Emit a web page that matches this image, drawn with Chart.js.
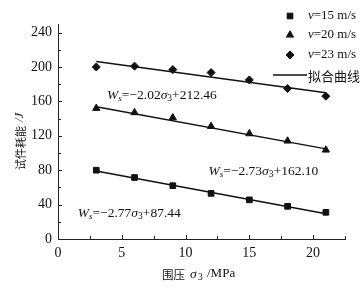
<!DOCTYPE html>
<html><head><meta charset="utf-8">
<script src="https://cdn.jsdelivr.net/npm/chart.js@4/dist/chart.umd.min.js"></script>
<style>html,body{margin:0;padding:0;background:#fff}#wrap{width:364px;height:290px}</style>
</head><body><div id="wrap"><canvas id="c" width="364" height="290"></canvas></div>
<script>
const sigma3 = [3, 6, 9, 12, 15, 18, 21];
const v15 = [80, 71.5, 62, 53, 45.5, 38, 31];
const v20 = [152, 147, 141, 131, 122.5, 114, 103.5];
const v23 = [200, 201, 197, 193.5, 185, 175, 166];
const fitX = [3, 21];
const fit15 = [79.1, 29.3];
const fit20 = [153.9, 104.8];
const fit23 = [206.4, 170.0];
const xTicks = [0, 5, 10, 15, 20];
const yTicks = [0, 40, 80, 120, 160, 200, 240];
const legendLabels = ['v=15 m/s', 'v=20 m/s', 'v=23 m/s', '拟合曲线'];
const equations = [
  {k: '2.02', b: '212.46', x: 3.85, y: 167},
  {k: '2.73', b: '162.10', x: 11.8, y: 78},
  {k: '2.77', b: '87.44', x: 1.55, y: 30}
];
const INK = '#111';
const SERIF = '"Liberation Serif","Times New Roman",serif';
const CJK = '"Noto Sans CJK SC",sans-serif';
const STYLES = [['rect', 4], ['triangle', 4.2], ['rectRot', 4]];

const pts = (xs, ys) => xs.map((x, i) => ({x, y: ys[i]}));
const fitDs = (ys) => ({type: 'line', data: pts(fitX, ys), borderColor: INK, borderWidth: 1.5, pointRadius: 0, fill: false, order: 2});
const scatDs = (ys, i) => ({type: 'scatter', data: pts(sigma3, ys), pointStyle: STYLES[i][0], pointRadius: STYLES[i][1], pointHoverRadius: STYLES[i][1],
  backgroundColor: INK, borderColor: INK, borderWidth: 1, order: 1});

const extras = {
  id: 'extras',
  afterDraw(chart) {
    const ctx = chart.ctx, xs = chart.scales.x, ys = chart.scales.y;
    const L = xs.left, B = ys.bottom;
    ctx.save();
    ctx.strokeStyle = '#222'; ctx.lineWidth = 1;
    // inward ticks
    for (let v = 2.5; v <= 22.5; v += 2.5) {
      const px = Math.round(xs.getPixelForValue(v)) + 0.5;
      const len = (v % 5 === 0) ? 4 : 3;
      ctx.beginPath(); ctx.moveTo(px, B); ctx.lineTo(px, B - len); ctx.stroke();
    }
    for (let v = 20; v <= 240; v += 20) {
      const py = Math.round(ys.getPixelForValue(v)) + 0.5;
      const len = (v % 40 === 0) ? 4 : 3;
      ctx.beginPath(); ctx.moveTo(L, py); ctx.lineTo(L + len, py); ctx.stroke();
    }
    // equations
    ctx.fillStyle = INK; ctx.textBaseline = 'middle';
    equations.forEach(e => {
      let x = xs.getPixelForValue(e.x), y = ys.getPixelForValue(e.y);
      const parts = [
        ['italic 13.5px ' + SERIF, 'W', 0],
        ['italic 9px ' + SERIF, 's', 3],
        ['13.5px ' + SERIF, '=\u2212' + e.k, 0],
        ['italic 13.5px ' + SERIF, '\u03c3', 0],
        ['9.5px ' + SERIF, '3', 3],
        ['13.5px ' + SERIF, '+' + e.b, 0]
      ];
      ctx.textAlign = 'left';
      parts.forEach(p => {
        ctx.font = p[0];
        ctx.fillText(p[1], x, y + p[2]);
        x += ctx.measureText(p[1]).width;
      });
    });
    // legend
    const lx = 290, tx = 308, rows = [16, 35, 55, 75];
    for (let i = 0; i < 3; i++) {
      ctx.fillStyle = INK; ctx.strokeStyle = INK; ctx.lineWidth = 1;
      Chart.helpers.drawPoint(ctx, {pointStyle: STYLES[i][0], radius: STYLES[i][1], borderWidth: 1, rotation: 0}, lx, rows[i]);
      const lab = legendLabels[i];
      ctx.textAlign = 'left';
      ctx.font = 'italic 13px ' + SERIF; ctx.fillText(lab[0], tx, rows[i]);
      let w = ctx.measureText(lab[0]).width;
      ctx.font = '13px ' + SERIF; ctx.fillText(lab.slice(1), tx + w, rows[i]);
    }
    ctx.strokeStyle = INK; ctx.lineWidth = 1.5;
    ctx.beginPath(); ctx.moveTo(273, rows[3]); ctx.lineTo(307, rows[3]); ctx.stroke();
    ctx.font = '13px ' + CJK; ctx.fillText(legendLabels[3], 308, rows[3] + 1);
    // x axis title
    const ty = 274;
    ctx.textAlign = 'left';
    ctx.font = '11.5px ' + CJK; ctx.fillText('围压', 162, ty + 1);
    ctx.font = 'italic 13.5px ' + SERIF; ctx.fillText('\u03c3', 190, ty);
    ctx.font = '9.5px ' + SERIF; ctx.fillText('3', 198, ty + 3);
    ctx.font = '13px ' + SERIF; ctx.fillText('/MPa', 207, ty);
    // y axis title
    ctx.save();
    ctx.translate(20, 170); ctx.rotate(-Math.PI / 2);
    ctx.font = '11px ' + CJK; ctx.fillText('试件耗能', 0, 1);
    ctx.font = 'italic 13px ' + SERIF; ctx.fillText('/J', 48, 0);
    ctx.restore();
    ctx.restore();
  }
};

new Chart(document.getElementById('c'), {
  data: {datasets: [fitDs(fit15), fitDs(fit20), fitDs(fit23), scatDs(v15, 0), scatDs(v20, 1), scatDs(v23, 2)]},
  options: {
    responsive: false, animation: false, devicePixelRatio: 1,
    layout: {padding: {top: 24, right: 19, left: 0, bottom: 0}},
    plugins: {legend: {display: false}, tooltip: {enabled: false}},
    scales: {
      x: {type: 'linear', min: 0, max: 22.5,
        afterBuildTicks: s => { s.ticks = xTicks.map(v => ({value: v})); },
        afterFit: s => { s.height = 51; },
        grid: {drawOnChartArea: false, drawTicks: false},
        border: {color: '#222', width: 1},
        ticks: {padding: 6, color: INK, font: {family: SERIF, size: 14}, maxRotation: 0}},
      y: {type: 'linear', min: 0, max: 250,
        afterBuildTicks: s => { s.ticks = yTicks.map(v => ({value: v})); },
        afterFit: s => { s.width = 58; },
        grid: {drawOnChartArea: false, drawTicks: false},
        border: {color: '#222', width: 1},
        ticks: {padding: 6, color: INK, font: {family: SERIF, size: 14}}}
    }
  },
  plugins: [extras]
});
</script></body></html>
